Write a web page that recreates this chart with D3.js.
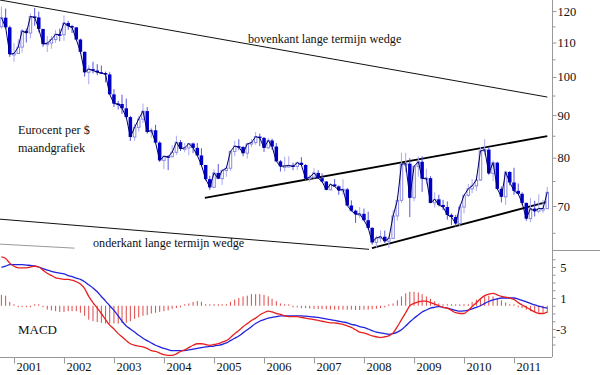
<!DOCTYPE html>
<html>
<head>
<meta charset="utf-8">
<script src="https://cdn.jsdelivr.net/npm/d3@7"></script>
<style>
  body { margin: 0; background: #fff; }
  svg { display: block; font-family: "Liberation Serif", "Times New Roman", serif; }
</style>
</head>
<body>
<div id="chart"></div>
<script>
// ---- data: eurocent per $, monthly, Oct 2000 .. Sep 2011 ----
const firstMonth = new Date(2000, 9, 1);

const open = [
  114.9, 117.8, 114.7,
  106.5, 106.7, 108.6, 113.6, 112.9, 118.2, 117.9, 114.2, 109.5, 109.8, 110.9, 112.5,
  112.4, 116.1, 115.1, 114.7, 110.9, 107.2, 101.3, 102.2, 101.8, 101.3, 101.1, 100.7,
  95.3, 92.9, 92.8, 91.7, 89.5, 84.7, 87.0, 89.0, 91.0, 85.9, 86.3, 83.4,
  79.4, 80.3, 80.2, 81.2, 83.5, 82.0, 82.2, 83.2, 82.2, 80.5, 78.4, 75.4,
  73.7, 76.7, 75.5, 77.2, 77.7, 81.4, 82.6, 82.4, 81.0, 83.1, 83.4, 84.8,
  84.5, 82.2, 83.9, 82.5, 79.2, 78.1, 78.2, 78.3, 78.1, 78.9, 78.4, 75.5,
  75.8, 76.7, 75.6, 74.9, 73.2, 74.3, 73.9, 73.1, 73.3, 70.1, 69.1, 68.4,
  68.5, 67.3, 65.9, 63.3, 64.1, 64.3, 63.5, 64.0, 68.1, 71.1, 78.6, 78.7,
  71.6, 78.1, 79.1, 75.5, 75.6, 70.6, 71.3, 70.2, 69.8, 68.3, 67.9, 66.7,
  69.8, 72.1, 73.4, 74.0, 75.2, 81.5, 81.8, 76.6, 78.9, 73.4, 71.8, 76.9,
  74.7, 73.0, 72.4, 70.6, 67.6, 69.5, 69.0, 69.5, 69.5
];
const high = [
  121.5, 120.8, 115.2,
  109.8, 111.0, 114.2, 114.3, 119.2, 121.0, 119.8, 114.2, 112.0, 112.0, 113.9, 114.3,
  118.5, 116.8, 115.5, 114.7, 111.2, 107.3, 103.3, 104.3, 103.6, 103.2, 101.5, 101.3,
  96.7, 93.6, 95.2, 94.2, 89.8, 87.9, 89.8, 92.9, 92.0, 86.9, 87.6, 83.7,
  80.6, 80.5, 82.8, 85.0, 84.0, 83.3, 83.3, 83.4, 83.3, 82.1, 78.4, 76.1,
  77.5, 78.6, 77.6, 78.3, 81.4, 83.8, 84.2, 82.6, 83.4, 84.2, 85.9, 85.5,
  84.7, 84.5, 84.3, 83.3, 79.5, 80.2, 80.3, 78.9, 79.2, 80.1, 78.6, 76.3,
  77.7, 77.3, 76.6, 75.0, 74.6, 75.4, 74.1, 75.4, 73.6, 71.1, 69.3, 69.8,
  69.5, 68.9, 66.0, 64.5, 65.4, 65.4, 64.4, 69.2, 72.0, 81.1, 81.1, 79.9,
  78.4, 80.3, 80.3, 77.6, 76.0, 72.7, 72.2, 71.2, 70.9, 68.6, 68.3, 70.3,
  72.2, 74.4, 75.4, 76.2, 82.4, 84.2, 82.3, 79.4, 79.1, 73.9, 77.2, 77.1,
  77.8, 74.5, 72.7, 70.7, 71.6, 71.0, 72.3, 71.2, 73.8
];
const low = [
  114.3, 114.2, 105.7,
  104.3, 106.6, 107.0, 110.0, 111.2, 115.2, 113.1, 108.7, 107.1, 108.1, 109.9, 110.4,
  110.5, 113.9, 112.9, 110.6, 106.6, 100.1, 98.0, 101.0, 100.5, 100.8, 98.5, 95.3,
  92.0, 91.4, 90.3, 89.1, 83.8, 83.8, 86.0, 88.1, 85.5, 84.5, 83.3, 79.1,
  77.5, 77.3, 80.1, 80.6, 81.5, 81.2, 80.5, 81.0, 80.4, 78.1, 75.1, 73.2,
  73.6, 75.4, 74.2, 75.9, 77.2, 80.3, 81.7, 80.3, 79.8, 82.4, 82.9, 82.6,
  81.3, 81.9, 81.8, 79.1, 77.0, 77.0, 77.8, 77.3, 77.3, 78.2, 75.1, 74.9,
  75.5, 75.5, 74.7, 73.1, 73.1, 73.8, 72.2, 72.2, 70.0, 68.9, 66.8, 67.7,
  67.2, 65.6, 62.9, 62.4, 63.3, 63.2, 62.3, 63.9, 67.2, 70.6, 76.9, 67.9,
  70.9, 75.9, 72.8, 74.3, 70.6, 69.7, 69.9, 69.2, 67.4, 66.4, 66.1, 66.1,
  68.6, 71.8, 72.5, 73.0, 75.0, 80.6, 76.3, 75.0, 73.2, 70.7, 70.2, 74.1,
  72.2, 72.2, 70.2, 67.2, 66.9, 68.0, 68.6, 68.7, 69.4
];
const close = [
  117.8, 114.7, 106.5,
  106.7, 108.6, 113.6, 112.9, 118.2, 117.9, 114.2, 109.5, 109.8, 110.9, 112.5, 112.4,
  116.1, 115.1, 114.7, 110.9, 107.2, 101.3, 102.2, 101.8, 101.3, 101.1, 100.7, 95.3,
  92.9, 92.8, 91.7, 89.5, 84.7, 87.0, 89.0, 91.0, 85.9, 86.3, 83.4, 79.4,
  80.3, 80.2, 81.2, 83.5, 82.0, 82.2, 83.2, 82.2, 80.5, 78.4, 75.4, 73.7,
  76.7, 75.5, 77.2, 77.7, 81.4, 82.6, 82.4, 81.0, 83.1, 83.4, 84.8, 84.5,
  82.2, 83.9, 82.5, 79.2, 78.1, 78.2, 78.3, 78.1, 78.9, 78.4, 75.5, 75.8,
  76.7, 75.6, 74.9, 73.2, 74.3, 73.9, 73.1, 73.3, 70.1, 69.1, 68.4, 68.5,
  67.3, 65.9, 63.3, 64.1, 64.3, 63.5, 64.0, 68.1, 71.1, 78.6, 78.7, 71.6,
  78.1, 79.1, 75.5, 75.6, 70.6, 71.3, 70.2, 69.8, 68.3, 67.9, 66.7, 69.8,
  72.1, 73.4, 74.0, 75.2, 81.5, 81.8, 76.6, 78.9, 73.4, 71.8, 76.9, 74.7,
  73.0, 72.4, 70.6, 67.6, 69.5, 69.0, 69.5, 69.5, 72.7
];

// MACD panel
const macd = [
  6.3, 6.1, 5.5,
  5.1, 4.9, 4.9, 4.9, 5.0, 5.1, 5.0, 4.6, 4.2, 3.9, 3.6, 3.5,
  3.4, 3.4, 3.3, 3.1, 2.8, 2.2, 1.2, 0.4, -0.3, -1.0, -1.8, -2.5,
  -3.0, -3.6, -4.0, -4.5, -4.9, -5.1, -5.2, -5.3, -5.5, -5.8, -5.9, -6.1,
  -6.3, -6.4, -6.4, -6.2, -5.9, -5.7, -5.4, -5.1, -4.9, -4.9, -5.0, -5.1,
  -5.0, -4.9, -4.7, -4.5, -4.1, -3.6, -3.2, -2.7, -2.3, -1.9, -1.6, -1.2,
  -0.9, -0.7, -0.8, -1.0, -1.1, -1.3, -1.4, -1.4, -1.4, -1.5, -1.6, -1.7,
  -1.8, -1.9, -2.0, -2.1, -2.2, -2.2, -2.3, -2.4, -2.6, -2.8, -3.1, -3.4,
  -3.5, -3.7, -3.9, -4.0, -4.1, -4.0, -3.9, -3.5, -2.7, -1.8, -0.9, 0.0,
  0.3, 0.5, 0.6, 0.6, 0.4, 0.2, 0.0, -0.2, -0.3, -0.6, -0.9, -1.0,
  -1.0, -0.6, -0.1, 0.4, 0.9, 1.3, 1.5, 1.6, 1.4, 1.2, 1.1, 1.0,
  0.8, 0.4, 0.1, -0.2, -0.5, -0.8, -1.0, -1.0, -0.8
];
const signal = [
  4.95, 5.1, 5.3,
  5.3, 5.3, 5.3, 5.25, 5.2, 5.15, 5.0, 4.8, 4.6, 4.45, 4.3, 4.2,
  4.1, 3.9, 3.75, 3.55, 3.4, 3.1, 2.7, 2.3, 1.8, 1.2, 0.6, 0.0,
  -0.6, -1.3, -2.0, -2.6, -3.0, -3.4, -3.8, -4.2, -4.5, -4.8, -5.1, -5.3,
  -5.5, -5.65, -5.8, -5.8, -5.8, -5.8, -5.7, -5.6, -5.5, -5.4, -5.3, -5.25,
  -5.2, -5.1, -5.0, -4.8, -4.5, -4.2, -3.9, -3.5, -3.1, -2.7, -2.3, -2.0,
  -1.8, -1.6, -1.5, -1.4, -1.3, -1.3, -1.3, -1.3, -1.3, -1.3, -1.35, -1.4,
  -1.45, -1.5, -1.6, -1.7, -1.8, -1.9, -2.0, -2.1, -2.2, -2.4, -2.5, -2.7,
  -2.8, -3.0, -3.2, -3.4, -3.5, -3.6, -3.7, -3.6, -3.4, -3.1, -2.6, -2.1,
  -1.6, -1.2, -0.8, -0.55, -0.3, -0.2, -0.1, -0.2, -0.3, -0.45, -0.6, -0.7,
  -0.65, -0.55, -0.4, -0.2, 0.0, 0.3, 0.55, 0.75, 0.9, 1.0, 1.0, 1.0,
  1.0, 0.85, 0.7, 0.5, 0.3, 0.1, -0.05, -0.2, -0.3
];
const histogram = [
  1.4, 1.3, 0.5,
  0.1, -0.1, -0.1, -0.1, -0.1, 0.0, 0.1, -0.2, -0.5, -0.6, -0.7, -0.8,
  -0.8, -0.7, -0.7, -0.7, -0.9, -1.3, -1.8, -2.0, -2.1, -2.2, -2.3, -2.3,
  -2.3, -2.3, -2.2, -2.2, -2.0, -1.7, -1.5, -1.3, -1.2, -1.0, -0.9, -0.8,
  -0.7, -0.6, -0.4, -0.3, -0.2, 0.0, 0.3, 0.5, 0.6, 0.5, 0.2, 0.1,
  0.0, 0.1, 0.1, 0.2, 0.5, 0.8, 1.0, 1.2, 1.3, 1.5, 1.5, 1.5,
  1.4, 1.2, 0.9, 0.6, 0.3, 0.1, 0.0, -0.1, -0.2, -0.3, -0.3, -0.35,
  -0.4, -0.4, -0.45, -0.45, -0.5, -0.5, -0.5, -0.5, -0.5, -0.5, -0.55, -0.55,
  -0.5, -0.5, -0.45, -0.4, -0.3, -0.2, 0.0, 0.3, 0.7, 1.2, 1.6, 1.8,
  1.8, 1.7, 1.5, 1.2, 0.9, 0.6, 0.3, 0.1, 0.05, 0.1, 0.1, 0.1,
  0.2, 0.2, 0.5, 0.8, 1.0, 1.2, 1.3, 1.2, 1.0, 0.7, 0.4, 0.1,
  0.0, -0.1, -0.3, -0.5, -0.7, -0.8, -0.9, -0.9, -0.9
];

// trend lines: [date, value] pairs
const wedgeUpperLong = [["2000-09-20", 123.7], ["2011-09-01", 94.6]];
const wedgeLowerLong = [["2000-09-20", 67.5], ["2008-02-07", 62.1]];
const wedgeUpperMid = [["2004-10-26", 71.6], ["2011-09-01", 84.9]];
const wedgeLowerMid = [["2008-02-28", 62.3], ["2011-09-01", 70.8]];
const greyLine = [["2000-09-20", 63.0], ["2002-03-19", 62.3]];

const priceLabels = [70, 80, 90, 100, 110, 120];
const priceMinor = [65, 75, 85, 95, 105, 115];
const macdTicks = [-5, -4, -3, -2, -1, 0, 1, 2, 3, 4, 5, 6];
const macdLabels = [5, 1, -3];

// ---- setup ----
const width = 600, height = 375;
const axisX = 552, bottomY = 357, splitY = 250.5;

const months = d3.range(open.length).map((i) => d3.timeMonth.offset(firstMonth, i));
const bars = months.map((d, i) => ({
  date: d, o: open[i], h: high[i], l: low[i], c: close[i],
  m: macd[i], s: signal[i], hist: histogram[i]
}));

const x = d3.scaleTime()
  .domain([new Date(2001, 0, 1), new Date(2011, 0, 1)])
  .range([14, 514]);
const y = d3.scaleLog().domain([70, 120]).range([206, 11]);
const ym = d3.scaleLinear().domain([1, 5]).range([298, 267]);

const svg = d3.select("#chart").append("svg")
  .attr("width", width).attr("height", height);

const defs = svg.append("defs");
defs.append("clipPath").attr("id", "clipTop")
  .append("rect").attr("x", 0).attr("y", 0).attr("width", axisX).attr("height", 252);
defs.append("clipPath").attr("id", "clipBottom")
  .append("rect").attr("x", 0).attr("y", 252).attr("width", axisX).attr("height", bottomY - 252);

const priceG = svg.append("g").attr("clip-path", "url(#clipTop)");
const macdG = svg.append("g").attr("clip-path", "url(#clipBottom)");

// --- trend lines ---
const tl = d3.line().x((d) => x(new Date(d[0]))).y((d) => y(d[1]));
priceG.append("path").attr("d", tl(wedgeUpperLong)).attr("stroke", "#111").attr("stroke-width", 1).attr("fill", "none");
priceG.append("path").attr("d", tl(wedgeLowerLong)).attr("stroke", "#111").attr("stroke-width", 1).attr("fill", "none");
priceG.append("path").attr("d", tl(greyLine)).attr("stroke", "#999").attr("stroke-width", 1).attr("fill", "none");
priceG.append("path").attr("d", tl(wedgeUpperMid)).attr("stroke", "#000").attr("stroke-width", 1.8).attr("fill", "none");
priceG.append("path").attr("d", tl(wedgeLowerMid)).attr("stroke", "#000").attr("stroke-width", 1.8).attr("fill", "none");

// --- candles ---
const down = (d) => d.c < d.o;
priceG.selectAll(".wick").data(bars).enter().append("line")
  .attr("x1", (d) => x(d.date)).attr("x2", (d) => x(d.date))
  .attr("y1", (d) => y(d.h)).attr("y2", (d) => y(d.l))
  .attr("stroke", (d) => (down(d) ? "#5555d8" : "#a9a9f0"))
  .attr("stroke-width", 1);

priceG.selectAll(".body").data(bars).enter().append("rect")
  .attr("x", (d) => x(d.date) - (down(d) ? 1.75 : 1.25))
  .attr("width", (d) => (down(d) ? 3.5 : 2.5))
  .attr("y", (d) => y(Math.max(d.o, d.c)))
  .attr("height", (d) => Math.max(1.5, Math.abs(y(d.o) - y(d.c))))
  .attr("fill", (d) => (down(d) ? "#0000cc" : "#fff"))
  .attr("stroke", (d) => (down(d) ? "none" : "#8a8ae4"))
  .attr("stroke-width", 1);

// close line
priceG.append("path").datum(bars)
  .attr("d", d3.line().x((d) => x(d.date)).y((d) => y(d.c)))
  .attr("fill", "none").attr("stroke", "#000066").attr("stroke-width", 1);

// --- MACD panel ---
macdG.selectAll(".hist").data(bars).enter().append("line")
  .attr("x1", (d) => x(d.date)).attr("x2", (d) => x(d.date))
  .attr("y1", ym(0))
  .attr("y2", (d) => {
    const len = ym(d.hist) - ym(0);
    return Math.abs(len) < 1.5 ? ym(0) + (len > 0 ? 1.5 : -1.5) : ym(d.hist);
  })
  .attr("stroke", "#e04848").attr("stroke-width", 1);

macdG.append("path").datum(bars)
  .attr("d", d3.line().curve(d3.curveMonotoneX).x((d) => x(d.date)).y((d) => ym(d.s)))
  .attr("fill", "none").attr("stroke", "#2222dd").attr("stroke-width", 1.3);
macdG.append("path").datum(bars)
  .attr("d", d3.line().curve(d3.curveMonotoneX).x((d) => x(d.date)).y((d) => ym(d.m)))
  .attr("fill", "none").attr("stroke", "#e81e1e").attr("stroke-width", 1.3);

// --- axes ---
const axisCol = "#999";
svg.append("line").attr("x1", axisX + 0.5).attr("x2", axisX + 0.5).attr("y1", 0).attr("y2", bottomY)
  .attr("stroke", axisCol);
svg.append("line").attr("x1", 0).attr("x2", axisX).attr("y1", bottomY + 0.5).attr("y2", bottomY + 0.5)
  .attr("stroke", axisCol);
svg.append("line").attr("x1", axisX).attr("x2", width).attr("y1", splitY).attr("y2", splitY)
  .attr("stroke", axisCol);

// price axis
svg.append("g").attr("transform", `translate(${axisX + 0.5},0)`)
  .call(d3.axisRight(y).tickValues(priceLabels).tickSize(4).tickPadding(1).tickFormat(d3.format("d")));
svg.append("g").attr("transform", `translate(${axisX + 0.5},0)`)
  .call(d3.axisRight(y).tickValues(priceMinor).tickSize(3).tickFormat(""));

// macd axis
svg.append("g").attr("transform", `translate(${axisX + 0.5},0)`)
  .call(d3.axisRight(ym).tickValues(macdTicks).tickSize(3).tickFormat(""));
const mAxis = svg.append("g").attr("transform", `translate(${axisX + 0.5},0)`)
  .call(d3.axisRight(ym).tickValues(macdLabels).tickSize(3).tickPadding(11).tickFormat((d) => (d < 0 ? "-" + Math.abs(d) : d)));
mAxis.selectAll("text").attr("text-anchor", "end").attr("x", 14);

// time axis
const xAxis = svg.append("g").attr("transform", `translate(0,${bottomY + 0.5})`)
  .call(d3.axisBottom(x).ticks(d3.timeYear.every(1)).tickSize(6).tickFormat(d3.timeFormat("%Y")));
xAxis.selectAll("text").attr("text-anchor", "start").attr("x", 2).attr("y", 5).attr("dy", "0.71em");

svg.selectAll(".domain").remove();
svg.selectAll(".tick line").attr("stroke", axisCol);
svg.selectAll(".tick text")
  .attr("fill", "#111")
  .style("font-family", "'Liberation Serif', serif")
  .style("font-size", "12.5px");

// --- annotations ---
const note = (txt, tx, ty) =>
  svg.append("text").attr("x", tx).attr("y", ty).text(txt)
    .style("font-size", "12.2px").attr("fill", "#111");
note("bovenkant lange termijn wedge", 248, 43);
note("Eurocent per $", 18, 134);
note("maandgrafiek", 18, 152);
note("onderkant lange termijn wedge", 93, 247);
note("MACD", 18, 334).style("font-size", "13px");
</script>
</body>
</html>
